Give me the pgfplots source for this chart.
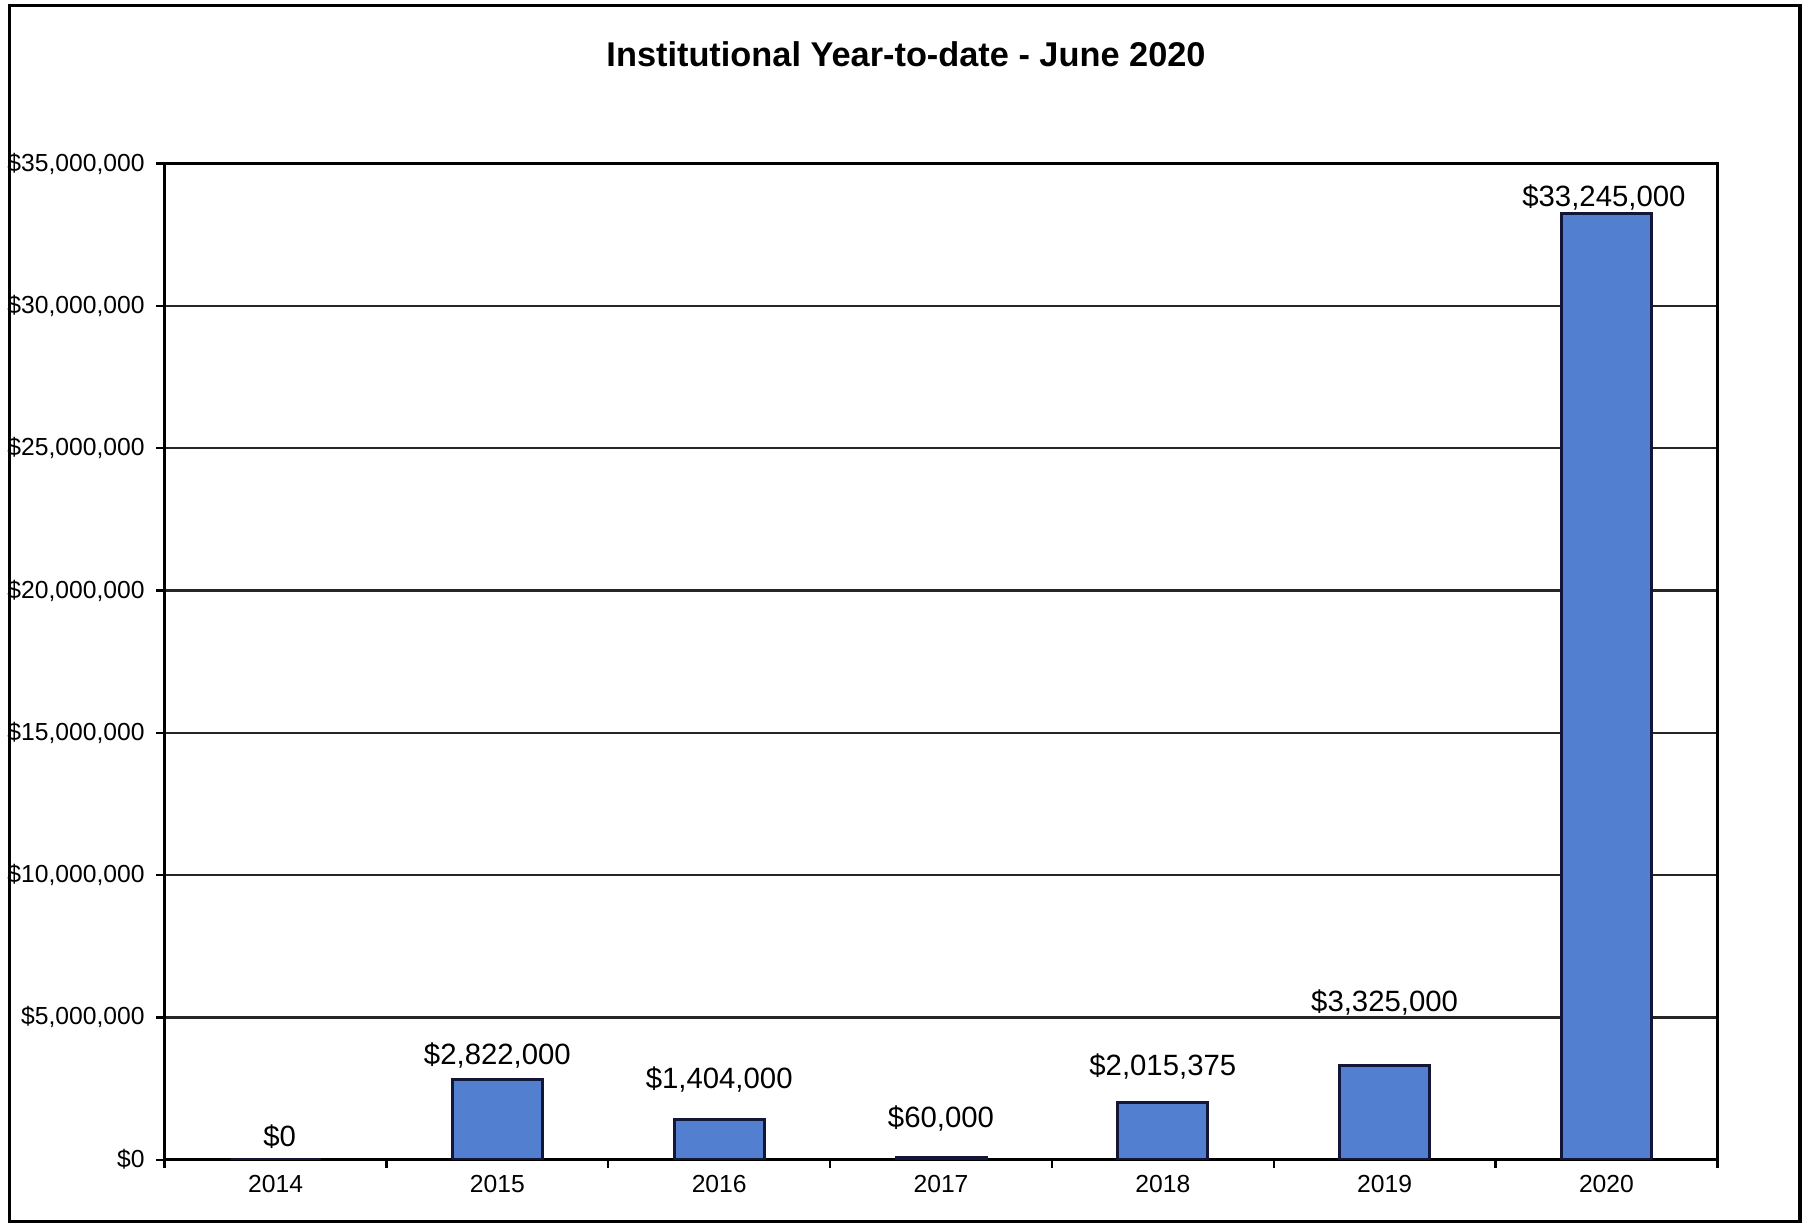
\documentclass[border=0pt]{standalone}
\usepackage{pgfplots}
\pgfplotsset{compat=1.18}
\usepackage{fontspec}
\setmainfont{Liberation Sans}
\definecolor{barfill}{RGB}{82,127,207}
\definecolor{barline}{RGB}{20,22,55}
\begin{document}
\begin{tikzpicture}
\useasboundingbox (0,0) rectangle (542.1pt,367.5pt);
\draw[line width=1pt] (2.8pt,1pt) rectangle (540pt,365.8pt);
\node[font=\fontsize{10.3}{12}\selectfont\bfseries] at (271.8pt,351.2pt) {Institutional Year-to-date - June 2020};
\begin{axis}[
  at={(49.4pt,19.6pt)}, anchor=south west,
  scale only axis, width=465.8pt, height=298.8pt,
  xmin=-0.5, xmax=6.5, ymin=0, ymax=35000000,
  scaled y ticks=false,
  axis line style={line width=0.9pt},
  tick pos=left,
  xtick={-0.5,0.5,...,6.5}, xticklabels={},
  extra x ticks={0,1,2,3,4,5,6},
  extra x tick labels={2014,2015,2016,2017,2018,2019,2020},
  extra x tick style={major tick length=0pt},
  ytick={0,5000000,10000000,15000000,20000000,25000000,30000000,35000000},
  yticklabels={{\$0},{\$5,000,000},{\$10,000,000},{\$15,000,000},{\$20,000,000},{\$25,000,000},{\$30,000,000},{\$35,000,000}},
  tick align=outside, major tick length=2.5pt,
  tick style={black, line width=0.7pt},
  ymajorgrids, major grid style={black!85, line width=0.7pt},
  tick label style={font=\fontsize{7.4}{8}\selectfont},
  x tick label style={yshift=-1pt},
  /pgf/number format/assume math mode=true,
  nodes near coords, point meta=explicit symbolic,
  nodes near coords style={font=\fontsize{8.8}{10}\selectfont, anchor=south, inner sep=1pt, yshift=2pt},
]
\addplot[ybar, bar width=27pt, fill=barfill, draw=barline, line width=0.9pt]
coordinates {
(0,0) [{\hspace*{2.5pt}\$0}]
(1,2822000) [{\raisebox{-0.6pt}{\$2,822,000}}]
(2,1404000) [{\raisebox{6pt}{\$1,404,000}}]
(3,60000) [{\raisebox{5.6pt}{\$60,000}}]
(4,2015375) [{\raisebox{4.6pt}{\$2,015,375}}]
(5,3325000) [{\raisebox{12.6pt}{\$3,325,000}}]
(6,33245000) [{\smash{\raisebox{-1.2pt}{\$33,245,000\hspace*{1.5pt}}}}]
};
\end{axis}
\end{tikzpicture}
\end{document}
